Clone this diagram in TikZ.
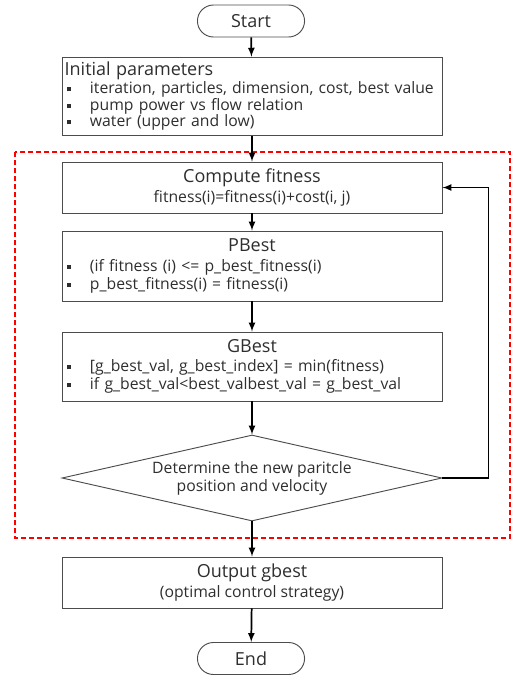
\documentclass[tikz,border=0pt]{standalone}
\usepackage{fontspec}
\setmainfont{Open Sans}
\usetikzlibrary{shapes.geometric,shapes.misc,arrows,calc}

\newcommand{\blt}{\hspace*{2pt}\rule[0.3ex]{3pt}{3pt}\hspace{14pt}}
\newcommand{\ttlfont}{\fontsize{13.5}{15}\selectfont}

\begin{document}
\begin{tikzpicture}[x=0.75pt,y=-0.75pt,>=latex,
    every node/.style={font=\fontsize{11.8}{13.5}\selectfont,text=black!82},
    box/.style={draw=black!70,line width=0.7pt,minimum width=285pt,inner sep=1pt},
    term/.style={draw=black!70,line width=0.7pt,rounded rectangle,minimum width=87pt,minimum height=24pt},
    decide/.style={draw=black!70,line width=0.7pt,diamond,aspect=4.42,inner sep=0pt,minimum width=285pt,minimum height=64.5pt,align=center},
    flow/.style={->,line width=1.3pt,black}]
  \useasboundingbox (0,0) rectangle (511,676);

  \node[term]                                      (start)  at (251,21)    {\ttlfont Start};
  \node[box,minimum height=59pt,text width=281pt,align=left,font=\fontsize{11.8}{12.4}\selectfont]
                                                   (init)   at (252,96.5)  {{\ttlfont Initial parameters}\\[1pt]
                                                                             \blt iteration, particles, dimension, cost, best value\\
                                                                             \blt pump power vs flow relation\\
                                                                             \blt water (upper and low)};
  \node[box,minimum height=38.25pt,align=center]   (fit)    at (252,187.5) {{\ttlfont Compute fitness}\\[1.5pt] fitness(i)=fitness(i)+cost(i, j)};
  \node[box,minimum height=52.5pt,text width=281pt,align=left]
                                                   (pbest)  at (252,266)   {\hfill{\ttlfont PBest}\hfill\null\\[1pt]
                                                                             \blt (if fitness (i) <= p\_best\_fitness(i)\\
                                                                             \blt p\_best\_fitness(i) = fitness(i)};
  \node[box,minimum height=51.75pt,text width=281pt,align=left]
                                                   (gbest)  at (252,366.5) {\hfill{\ttlfont GBest}\hfill\null\\[1pt]
                                                                             \blt [g\_best\_val, g\_best\_index] = min(fitness)\\
                                                                             \blt if g\_best\_val<best\_valbest\_val = g\_best\_val};
  \node[decide]                                    (update) at (252,478)   {Determine the new paritcle\\ position and velocity};
  \node[box,minimum height=38.25pt,align=center]   (output) at (252,582.5) {{\ttlfont Output gbest}\\[1.5pt] (optimal control strategy)};
  \node[term]                                      (stop)   at (251,658.5) {\ttlfont End};

  % PSO loop region
  \draw[red,line width=1.5pt,dash pattern=on 3.75pt off 2.25pt] (15,152) rectangle (510,538);

  \draw[flow] (start) -- (init);
  \draw[flow] (init) -- (fit);
  \draw[flow] (fit) -- (pbest);
  \draw[flow] (pbest) -- (gbest);
  \draw[flow] (gbest) -- (update);
  \draw[flow] (update.east) -- ++(46,0) |- (fit.east);
  \draw[flow] (update) -- (output);
  \draw[flow] (output) -- (stop);
\end{tikzpicture}
\end{document}
